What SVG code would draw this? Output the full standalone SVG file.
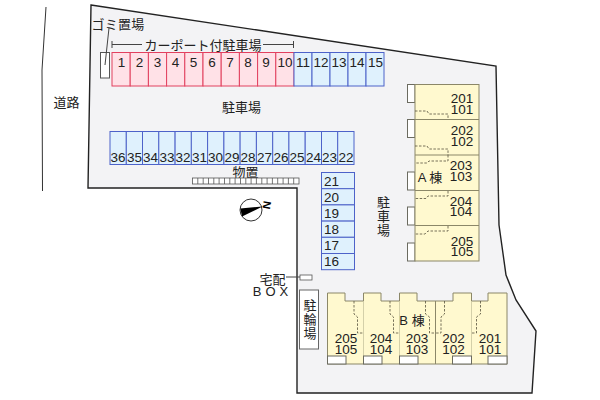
<svg xmlns="http://www.w3.org/2000/svg" width="600" height="400" viewBox="0 0 600 400">
<style>
text{font-family:"Liberation Sans","Noto Sans CJK JP",sans-serif;font-size:13px;fill:#222;text-anchor:middle;dominant-baseline:central}
.red rect{fill:#ffe1e7;stroke:#e2405f;stroke-width:1}
.blue rect{fill:#dff1fd;stroke:#4d62c9;stroke-width:1}
.n{font-size:13.500px}
.u{font-size:13.500px}
.bldg{fill:#fff9cf;stroke:#8b8768;stroke-width:1}
.wh{fill:#fff;stroke:#6b6b60;stroke-width:1}
.dash{fill:none;stroke:#55503c;stroke-width:.8;stroke-dasharray:2.500 1.500}
.ln{fill:none;stroke:#444;stroke-width:1}
.v{writing-mode:vertical-rl;letter-spacing:1px}
</style>
<polygon id="site" points="91,5 496,66 499,225 506,275 516,300 536,331 532,393 297,393 297,188 88,188" fill="#f3f3f5" stroke="#222" stroke-width="1.400"/>
<path id="road" d="M46,7 L42,70 L42.500,191" fill="none" stroke="#333" stroke-width="1"/>
<text x="66.500" y="102">道路</text>
<text x="241.500" y="107">駐車場</text>
<text x="118" y="24" style="letter-spacing:.2px">ゴミ置場</text>
<text x="203" y="45">カーポート付駐車場</text>
<text x="245.500" y="172">物置</text>
<text class="v" x="382.500" y="216.500">駐車場</text>
<g id="trash"><rect x="100.500" y="52.500" width="9" height="25.500" fill="#fff" stroke="#555"/></g>
<g id="connectors">
<path class="ln" d="M112,41 V48 M112,44.500 H142 M263,44.500 H293.500 M293.500,41 V48 M109,28 L105,65 M286,277 H300"/>
</g>
<g id="carports" class="red">
<g id="p1"><rect x="112" y="52.500" width="18.200" height="33.500"/><text class="n" x="121.500" y="62.500">1</text></g>
<g id="p2"><rect x="130.200" y="52.500" width="18.200" height="33.500"/><text class="n" x="139.500" y="62.500">2</text></g>
<g id="p3"><rect x="148.400" y="52.500" width="18.200" height="33.500"/><text class="n" x="157.500" y="62.500">3</text></g>
<g id="p4"><rect x="166.600" y="52.500" width="18.200" height="33.500"/><text class="n" x="175.500" y="62.500">4</text></g>
<g id="p5"><rect x="184.800" y="52.500" width="18.200" height="33.500"/><text class="n" x="193.500" y="62.500">5</text></g>
<g id="p6"><rect x="203" y="52.500" width="18.200" height="33.500"/><text class="n" x="212" y="62.500">6</text></g>
<g id="p7"><rect x="221.200" y="52.500" width="18.200" height="33.500"/><text class="n" x="230" y="62.500">7</text></g>
<g id="p8"><rect x="239.400" y="52.500" width="18.200" height="33.500"/><text class="n" x="248" y="62.500">8</text></g>
<g id="p9"><rect x="257.600" y="52.500" width="18.200" height="33.500"/><text class="n" x="266" y="62.500">9</text></g>
<g id="p10"><rect x="275.800" y="52.500" width="18.200" height="33.500"/><text class="n" x="285" y="62.500">10</text></g>
</g>
<g id="row-top" class="blue">
<g id="p11"><rect x="294" y="52.500" width="18" height="33.500"/><text class="n" x="303" y="62.500">11</text></g>
<g id="p12"><rect x="312" y="52.500" width="18" height="33.500"/><text class="n" x="321" y="62.500">12</text></g>
<g id="p13"><rect x="330" y="52.500" width="18" height="33.500"/><text class="n" x="339" y="62.500">13</text></g>
<g id="p14"><rect x="348" y="52.500" width="18" height="33.500"/><text class="n" x="357" y="62.500">14</text></g>
<g id="p15"><rect x="366" y="52.500" width="18" height="33.500"/><text class="n" x="375.500" y="62.500">15</text></g>
</g>
<g id="row-mid" class="blue">
<g id="p36"><rect x="110" y="131.500" width="16.300" height="33"/><text class="n" x="118" y="157.500">36</text></g>
<g id="p35"><rect x="126.300" y="131.500" width="16.300" height="33"/><text class="n" x="134.500" y="157.500">35</text></g>
<g id="p34"><rect x="142.500" y="131.500" width="16.300" height="33"/><text class="n" x="150.500" y="157.500">34</text></g>
<g id="p33"><rect x="158.800" y="131.500" width="16.300" height="33"/><text class="n" x="167" y="157.500">33</text></g>
<g id="p32"><rect x="175.100" y="131.500" width="16.300" height="33"/><text class="n" x="183" y="157.500">32</text></g>
<g id="p31"><rect x="191.300" y="131.500" width="16.300" height="33"/><text class="n" x="199.500" y="157.500">31</text></g>
<g id="p30"><rect x="207.600" y="131.500" width="16.300" height="33"/><text class="n" x="215.500" y="157.500">30</text></g>
<g id="p29"><rect x="223.900" y="131.500" width="16.300" height="33"/><text class="n" x="232" y="157.500">29</text></g>
<g id="p28"><rect x="240.100" y="131.500" width="16.300" height="33"/><text class="n" x="248" y="157.500">28</text></g>
<g id="p27"><rect x="256.400" y="131.500" width="16.300" height="33"/><text class="n" x="264.500" y="157.500">27</text></g>
<g id="p26"><rect x="272.700" y="131.500" width="16.300" height="33"/><text class="n" x="281" y="157.500">26</text></g>
<g id="p25"><rect x="288.900" y="131.500" width="16.300" height="33"/><text class="n" x="297" y="157.500">25</text></g>
<g id="p24"><rect x="305.200" y="131.500" width="16.300" height="33"/><text class="n" x="313.500" y="157.500">24</text></g>
<g id="p23"><rect x="321.500" y="131.500" width="16.300" height="33"/><text class="n" x="329.500" y="157.500">23</text></g>
<g id="p22"><rect x="337.700" y="131.500" width="16.300" height="33"/><text class="n" x="346" y="157.500">22</text></g>
</g>
<g id="row-right" class="blue">
<g id="p21"><rect x="321.500" y="172.500" width="33" height="16.200"/><text class="n" x="331.500" y="181">21</text></g>
<g id="p20"><rect x="321.500" y="188.700" width="33" height="16.200"/><text class="n" x="331.500" y="197">20</text></g>
<g id="p19"><rect x="321.500" y="204.900" width="33" height="16.200"/><text class="n" x="331.500" y="213.500">19</text></g>
<g id="p18"><rect x="321.500" y="221.100" width="33" height="16.200"/><text class="n" x="331.500" y="229.500">18</text></g>
<g id="p17"><rect x="321.500" y="237.300" width="33" height="16.200"/><text class="n" x="331.500" y="245.500">17</text></g>
<g id="p16"><rect x="321.500" y="253.500" width="33" height="16.200"/><text class="n" x="331.500" y="261.500">16</text></g>
</g>
<g id="storage">
<rect x="192.500" y="178" width="106.500" height="6" fill="#fff" stroke="#555" stroke-width=".8"/>
<path d="M197.800,178v6M203.200,178v6M208.500,178v6M213.800,178v6M219.100,178v6M224.500,178v6M229.800,178v6M235.100,178v6M240.500,178v6M245.800,178v6M251.100,178v6M256.400,178v6M261.800,178v6M267.100,178v6M272.400,178v6M277.700,178v6M283.100,178v6M288.400,178v6M293.700,178v6" stroke="#555" stroke-width=".8" fill="none"/>
</g>
<g id="compass">
<circle cx="251" cy="210" r="11" fill="#fff" stroke="#333"/>
<polygon points="262.500,206.500 240.300,208.500 242,216.500" fill="#000"/>
<text x="267" y="205" transform="rotate(100 267 205)" style="font-size:11px;font-weight:bold;fill:#000">N</text>
</g>
<g id="building-a">
<g id="a-balconies">
<rect class="wh" x="407.500" y="84.500" width="7.500" height="18"/>
<rect class="wh" x="407.500" y="119.500" width="7.500" height="18"/>
<rect class="wh" x="407.500" y="172" width="7.500" height="18"/>
<rect class="wh" x="407.500" y="207" width="7.500" height="18"/>
<rect class="wh" x="407.500" y="243" width="7.500" height="18"/>
</g>
<rect class="bldg" x="415" y="84.500" width="64" height="176.500"/>
<path class="bldg" d="M415,119.500H479M415,155H479M415,190.500H479M415,225.500H479"/>
<path class="dash" d="M415,111H427L429,114H448V119M415,146H427L429,149H448V155M448,155V161H429L427,163H415M448,191V196H428L426,198.500H415M448,226V231H428L425,234H415"/>
<text x="430" y="177">A 棟</text>
<text class="u" y="98"><tspan x="462">201</tspan><tspan x="462" dy="10.500">101</tspan></text>
<text class="u" y="130"><tspan x="462">202</tspan><tspan x="462" dy="10.500">102</tspan></text>
<text class="u" y="165"><tspan x="461">203</tspan><tspan x="461" dy="10.500">103</tspan></text>
<text class="u" y="200.500"><tspan x="461">204</tspan><tspan x="461" dy="10.500">104</tspan></text>
<text class="u" y="240.500"><tspan x="462">205</tspan><tspan x="462" dy="10.500">105</tspan></text>
</g>
<g id="building-b">
<polygon class="bldg" points="327.500,293 345,293 345,301 363.500,301 363.500,293 381,293 381,301 399.500,301 399.500,293 417,293 417,301 453,301 453,293 471.500,293 471.500,301 488,301 488,293 507,293 507,364 327.500,364"/>
<path class="bldg" d="M435.500,301V364"/>
<path d="M363.500,301V364M399.500,301V364M471.500,301V364" stroke="#c9c5a0" stroke-width=".8" fill="none"/>
<rect class="wh" x="327.500" y="356" width="18.500" height="8"/>
<rect class="wh" x="363.500" y="356" width="18.500" height="8"/>
<rect class="wh" x="399.500" y="356" width="18.500" height="8"/>
<rect class="wh" x="452.500" y="356" width="19" height="8"/>
<rect class="wh" x="488" y="356" width="19" height="8"/>
<path class="dash" d="M354,301V314L357.500,317V333H363.500M390,301V314L393.500,317V333H399.500M425.500,301V314L429.500,317V333H435.500M444.500,301V314L441,317V333H435.500M480.500,301V314L476.500,317V333H471.500"/>
<text x="412" y="320">B 棟</text>
<text class="u" y="338"><tspan x="346">205</tspan><tspan x="346" dy="11">105</tspan></text>
<text class="u" y="338"><tspan x="381">204</tspan><tspan x="381" dy="11">104</tspan></text>
<text class="u" y="338"><tspan x="417">203</tspan><tspan x="417" dy="11">103</tspan></text>
<text class="u" y="338"><tspan x="453.500">202</tspan><tspan x="453.500" dy="11">102</tspan></text>
<text class="u" y="338"><tspan x="490">201</tspan><tspan x="490" dy="11">101</tspan></text>
</g>
<g id="bike">
<rect x="299.500" y="290" width="19" height="59" fill="#fff" stroke="#666"/>
<text class="v" x="309" y="319.500">駐輪場</text>
</g>
<g id="box">
<rect x="300" y="275" width="12" height="5" fill="#fff" stroke="#555" stroke-width=".8"/>
<text y="278.500"><tspan x="272.500">宅配</tspan><tspan x="272.500" dy="12.500" letter-spacing="4">BOX</tspan></text>
</g>
</svg>
